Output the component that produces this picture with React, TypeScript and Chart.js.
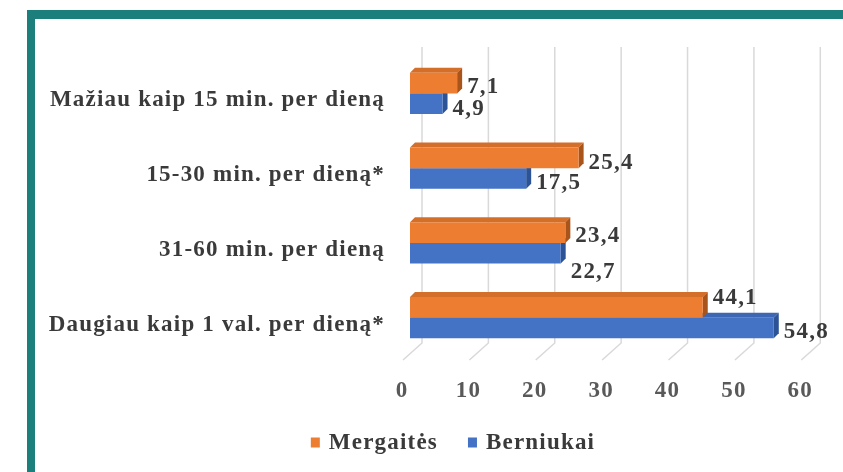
import React, { useEffect, useRef } from "react";
import { Chart, registerables } from "chart.js";

Chart.register(...registerables);

// ---- data ----
const categories = [
  "Mažiau kaip 15 min. per dieną",
  "15-30 min. per dieną*",
  "31-60 min. per dieną",
  "Daugiau kaip 1 val. per dieną*",
];
const seriesNames = ["Mergaitės", "Berniukai"];
const girls = [7.1, 25.4, 23.4, 44.1];
const boys = [4.9, 17.5, 22.7, 54.8];
const xTickValues = [0, 10, 20, 30, 40, 50, 60];

// ---- style ----
const FONT_FAMILY = "'Liberation Serif', 'Times New Roman', serif";
const TEXT_COLOR = "#3a3a3a";
const TICK_COLOR = "#595959";
const FRAME_COLOR = "#1c7f7c";
const GRID_COLOR = "#d9d9d9";
const LETTER_SPACING = "1.2px";
const FONT_SIZE = 23;
const FRONT = ["#ED7D31", "#4472C4"];
const TOP_FACE = ["#d46f2a", "#3d66b3"];
const SIDE_FACE = ["#a9541a", "#2c5396"];
const DEPTH = 5;
const LABEL_NUDGE_Y = [
  [4, 5, 3, -9],
  [5, 5, 19, 4],
];

const fmt = (v: number) => v.toFixed(1).replace(".", ",");

const spacingPlugin = {
  id: "spacing",
  beforeLayout(chart: any) {
    chart.ctx.letterSpacing = LETTER_SPACING;
  },
  beforeDraw(chart: any) {
    chart.ctx.letterSpacing = LETTER_SPACING;
  },
};

const framePlugin = {
  id: "frame",
  beforeDraw(chart: any) {
    const ctx = chart.ctx;
    ctx.save();
    ctx.fillStyle = "#ffffff";
    ctx.fillRect(0, 0, chart.width, chart.height);
    ctx.fillStyle = FRAME_COLOR;
    ctx.fillRect(27, 10, chart.width - 27, 9);
    ctx.fillRect(27, 10, 8, chart.height - 10);
    ctx.restore();
  },
};

const gridPlugin = {
  id: "grid3d",
  beforeDatasetsDraw(chart: any) {
    const ctx = chart.ctx;
    const xs = chart.scales.x;
    const area = chart.chartArea;
    ctx.save();
    ctx.strokeStyle = GRID_COLOR;
    ctx.lineWidth = 1.5;
    xTickValues.forEach((v) => {
      const px = xs.getPixelForValue(v);
      const bx = px + 12;
      ctx.beginPath();
      ctx.moveTo(bx, area.top - 9);
      ctx.lineTo(bx, area.bottom - 12);
      ctx.lineTo(px - 7, area.bottom + 5);
      ctx.stroke();
    });
    ctx.restore();
  },
};

const facesPlugin = {
  id: "faces3d",
  beforeDatasetsDraw(chart: any) {
    const ctx = chart.ctx;
    ctx.save();
    [1, 0].forEach((di) => {
      const meta = chart.getDatasetMeta(di);
      meta.data.forEach((bar: any) => {
        const { x, y, base, height } = bar.getProps(["x", "y", "base", "height"], true);
        const top = y - height / 2;
        const bottom = y + height / 2;
        ctx.fillStyle = TOP_FACE[di];
        ctx.beginPath();
        ctx.moveTo(base, top);
        ctx.lineTo(x, top);
        ctx.lineTo(x + DEPTH, top - DEPTH);
        ctx.lineTo(base + DEPTH, top - DEPTH);
        ctx.closePath();
        ctx.fill();
        ctx.fillStyle = SIDE_FACE[di];
        ctx.beginPath();
        ctx.moveTo(x, top);
        ctx.lineTo(x + DEPTH, top - DEPTH);
        ctx.lineTo(x + DEPTH, bottom - DEPTH);
        ctx.lineTo(x, bottom);
        ctx.closePath();
        ctx.fill();
      });
    });
    ctx.restore();
  },
};

const labelsPlugin = {
  id: "valueLabels",
  afterDatasetsDraw(chart: any) {
    const ctx = chart.ctx;
    ctx.save();
    ctx.font = `bold ${FONT_SIZE}px ${FONT_FAMILY}`;
    ctx.fillStyle = TEXT_COLOR;
    ctx.textAlign = "left";
    ctx.textBaseline = "middle";
    chart.data.datasets.forEach((ds: any, di: number) => {
      const meta = chart.getDatasetMeta(di);
      meta.data.forEach((bar: any, i: number) => {
        const { x, y } = bar.getProps(["x", "y"], true);
        ctx.fillText(fmt(ds.data[i]), x + DEPTH + 5, y + LABEL_NUDGE_Y[di][i]);
      });
    });
    ctx.restore();
  },
};

const legendPlugin = {
  id: "customLegend",
  afterDraw(chart: any) {
    const ctx = chart.ctx;
    ctx.save();
    ctx.font = `bold ${FONT_SIZE}px ${FONT_FAMILY}`;
    ctx.textBaseline = "middle";
    ctx.textAlign = "left";
    const box = 9;
    const gapText = 9;
    const gapItem = 30;
    const items = chart.data.datasets.map((ds: any) => ({
      text: ds.label,
      color: ds.backgroundColor,
      w: ctx.measureText(ds.label).width,
    }));
    const total =
      items.reduce((s: number, it: any) => s + box + gapText + it.w, 0) + gapItem * (items.length - 1);
    let x = 453 - total / 2;
    const cy = 443;
    items.forEach((it: any) => {
      ctx.fillStyle = it.color;
      ctx.fillRect(x, cy - box / 2 - 1, box, box + 1);
      ctx.fillStyle = TEXT_COLOR;
      ctx.fillText(it.text, x + box + gapText, cy);
      x += box + gapText + it.w + gapItem;
    });
    ctx.restore();
  },
};

export default function App() {
  const ref = useRef<HTMLCanvasElement | null>(null);
  useEffect(() => {
    if (!ref.current) return;
    const chart = new Chart(ref.current, {
      type: "bar",
      data: {
        labels: categories,
        datasets: [
          { label: seriesNames[0], data: girls, backgroundColor: FRONT[0], borderWidth: 0 },
          { label: seriesNames[1], data: boys, backgroundColor: FRONT[1], borderWidth: 0 },
        ],
      },
      options: {
        indexAxis: "y",
        responsive: false,
        animation: false,
        devicePixelRatio: 1,
        layout: { padding: { left: 0, right: 30, top: 56, bottom: 57 } },
        datasets: { bar: { barPercentage: 1, categoryPercentage: 0.55 } },
        plugins: { legend: { display: false }, tooltip: { enabled: false } },
        scales: {
          x: {
            min: 0,
            max: 60,
            border: { display: false },
            grid: { display: false, drawTicks: false },
            ticks: {
              stepSize: 10,
              labelOffset: -8,
              padding: 22,
              color: TICK_COLOR,
              font: { family: FONT_FAMILY, size: FONT_SIZE, weight: "bold" },
            },
            afterFit: (s: any) => {
              s.height = 60;
            },
          },
          y: {
            border: { display: false },
            grid: { display: false, drawTicks: false },
            ticks: {
              padding: 25,
              labelOffset: 7,
              color: TEXT_COLOR,
              font: { family: FONT_FAMILY, size: FONT_SIZE, weight: "bold" },
            },
            afterFit: (s: any) => {
              s.width = 410;
            },
          },
        },
      },
      plugins: [spacingPlugin, framePlugin, gridPlugin, facesPlugin, labelsPlugin, legendPlugin],
    } as any);
    return () => chart.destroy();
  }, []);
  return (
    <canvas
      ref={ref}
      width={843}
      height={472}
      style={{ position: "fixed", left: 0, top: 0, width: 843, height: 472, display: "block" }}
    />
  );
}
